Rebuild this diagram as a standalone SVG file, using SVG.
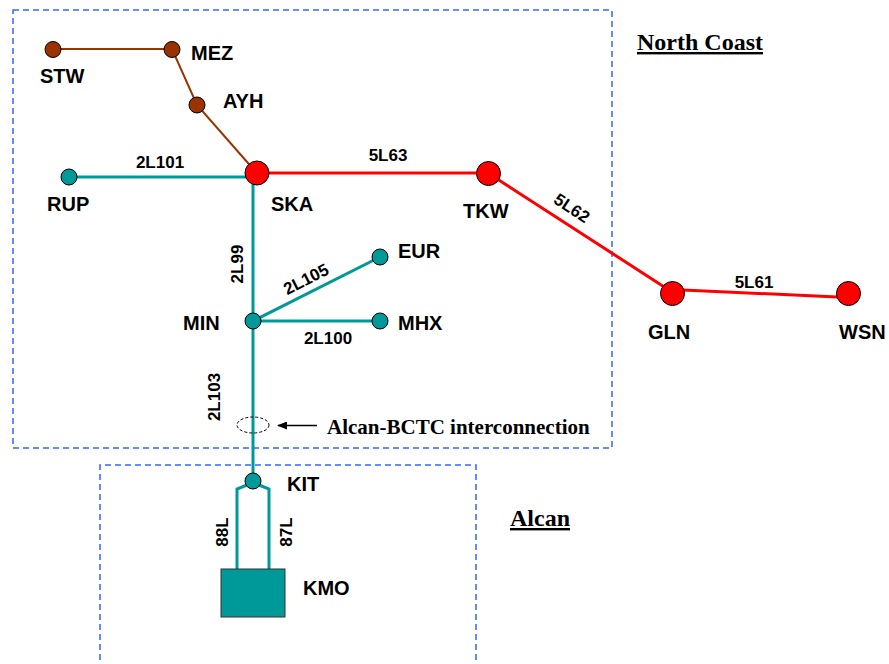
<svg xmlns="http://www.w3.org/2000/svg" width="889" height="664" viewBox="0 0 889 664">
<defs>
<style>
.bg{fill:#fff}
.region{fill:none;stroke:#3366FF;stroke-width:1.5;stroke-dasharray:6,4}
.brown{stroke:#993300;stroke-width:2;fill:none}
.teal{stroke:#009999;stroke-width:3;fill:none}
.red{stroke:#FF0000;stroke-width:3;fill:none}
.nb{fill:#993300;stroke:#000;stroke-width:1}
.nt{fill:#009999;stroke:#000;stroke-width:1}
.nr{fill:#FF0000;stroke:#000;stroke-width:1}
.st{font-family:"Liberation Sans",Arial,sans-serif;font-weight:bold;font-size:20px;fill:#000}
.ll{font-family:"Liberation Sans",Arial,sans-serif;font-weight:bold;font-size:17px;fill:#000;text-anchor:middle}
.hd{font-family:"Liberation Serif","Times New Roman",serif;font-weight:bold;font-size:24px;fill:#000;text-decoration:underline}
.note{font-family:"Liberation Serif","Times New Roman",serif;font-weight:bold;font-size:21px;fill:#000}
</style>
<marker id="arr" markerWidth="10" markerHeight="8" refX="9" refY="4" orient="auto" markerUnits="userSpaceOnUse">
<path d="M0,0 L10,4 L0,8 Z" fill="#000"/>
</marker>
</defs>
<rect class="bg" x="0" y="0" width="889" height="664"/>

<g id="regions">
<rect class="region" x="13" y="10" width="599" height="438"/>
<path class="region" d="M100,680 L100,465 L476,465 L476,680"/>
<text class="hd" x="637" y="50">North Coast</text>
<text class="hd" x="510" y="526">Alcan</text>
</g>

<g id="connectors">
<polyline class="brown" points="53,49 172,49 197,105 255,171"/>
<line class="teal" x1="69" y1="177" x2="250" y2="177"/>
<line class="teal" x1="253" y1="177" x2="253" y2="481"/>
<line class="teal" x1="253" y1="321" x2="380" y2="257"/>
<line class="teal" x1="253" y1="321" x2="380" y2="321"/>
<polyline class="teal" points="247,485 237,489 237,570"/>
<polyline class="teal" points="259,485 269,489 269,570"/>
<polyline class="red" points="257,173 488,173 672,292"/>
<line class="red" x1="672" y1="289.5" x2="848" y2="297.5"/>
<text class="ll" x="160" y="168">2L101</text>
<text class="ll" x="388" y="161">5L63</text>
<text class="ll" transform="translate(572,208) rotate(33.5)" y="6">5L62</text>
<text class="ll" x="754" y="288">5L61</text>
<text class="ll" transform="translate(237,264) rotate(-90)" y="6">2L99</text>
<text class="ll" transform="translate(306,279) rotate(-27)" y="6">2L105</text>
<text class="ll" x="328" y="344">2L100</text>
<text class="ll" transform="translate(214,397) rotate(-90)" y="6">2L103</text>
<text class="ll" transform="translate(222,532) rotate(-90)" y="6">88L</text>
<text class="ll" transform="translate(286,532) rotate(-90)" y="6">87L</text>
</g>

<g id="interconnection">
<ellipse cx="253" cy="425" rx="16" ry="8" fill="none" stroke="#000" stroke-width="1" stroke-dasharray="3,2"/>
<line x1="317" y1="425.5" x2="278" y2="425.5" stroke="#000" stroke-width="1.5" marker-end="url(#arr)"/>
<text class="note" x="327" y="434">Alcan-BCTC interconnection</text>
</g>

<g id="STW"><circle class="nb" cx="53" cy="49.5" r="8"/><text class="st" x="40" y="83">STW</text></g>
<g id="MEZ"><circle class="nb" cx="172" cy="49.5" r="8"/><text class="st" x="191" y="60">MEZ</text></g>
<g id="AYH"><circle class="nb" cx="197" cy="105" r="8"/><text class="st" x="223" y="108">AYH</text></g>
<g id="RUP"><circle class="nt" cx="69" cy="177" r="8"/><text class="st" x="47" y="211">RUP</text></g>
<g id="SKA"><circle class="nr" cx="257" cy="173" r="12"/><text class="st" x="271" y="211">SKA</text></g>
<g id="TKW"><circle class="nr" cx="488.5" cy="173.5" r="12"/><text class="st" x="463" y="218">TKW</text></g>
<g id="GLN"><circle class="nr" cx="672.5" cy="293.5" r="12"/><text class="st" x="648" y="339">GLN</text></g>
<g id="WSN"><circle class="nr" cx="848.5" cy="293.5" r="12"/><text class="st" x="839" y="339">WSN</text></g>
<g id="EUR"><circle class="nt" cx="380" cy="257" r="8"/><text class="st" x="398" y="258">EUR</text></g>
<g id="MIN"><circle class="nt" cx="253" cy="321" r="8"/><text class="st" x="183" y="330">MIN</text></g>
<g id="MHX"><circle class="nt" cx="380" cy="321" r="8"/><text class="st" x="398" y="330">MHX</text></g>
<g id="KIT"><circle class="nt" cx="253" cy="481" r="8"/><text class="st" x="287" y="491">KIT</text></g>
<g id="KMO"><rect x="221" y="569" width="64" height="48" fill="#009999" stroke="#333" stroke-width="1"/><text class="st" x="303" y="595">KMO</text></g>
</svg>
